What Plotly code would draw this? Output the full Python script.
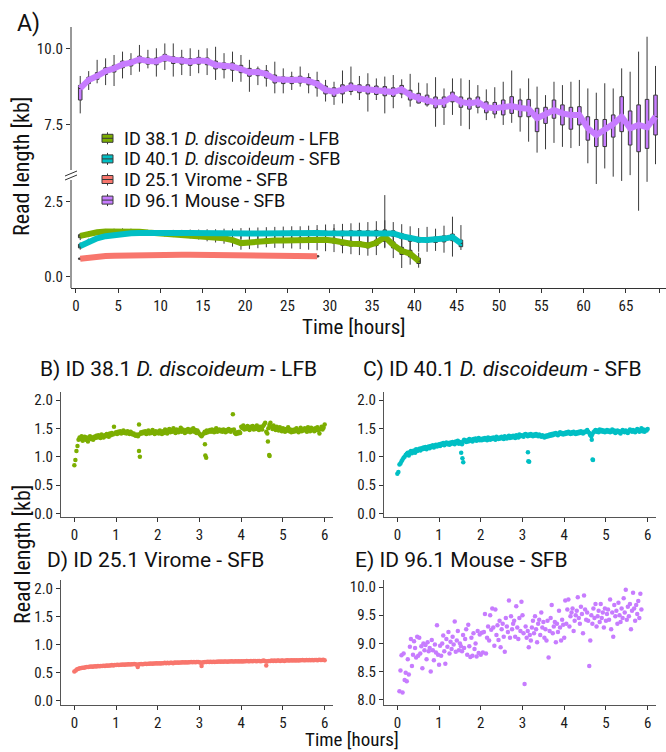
import numpy as np
import plotly.graph_objects as go

W, H = 666, 752
FONT = "Roboto Condensed, Liberation Sans Narrow, DejaVu Sans Condensed, Roboto, sans-serif"
FONT_TITLE = "Roboto, Noto Sans, sans-serif"

COL_LFB = "#7CAE00"
COL_SFB = "#00BFC4"
COL_VIR = "#F8766D"
COL_MOUSE = "#C77CFF"
AXIS_COL = "#333333"


def px(x):
    return x / W


def py(y):
    return 1 - y / H


# ---------------- panel A : hourly boxes (lo, q1, median, q3, hi) ----------------
mouse_hours = list(range(69))
mouse_med = [8.68, 8.96, 9.09, 9.25, 9.34, 9.47, 9.53, 9.64, 9.58, 9.57,
             9.70, 9.62, 9.60, 9.56, 9.60, 9.58, 9.45, 9.42, 9.40, 9.32,
             9.21, 9.22, 9.15, 8.99, 8.96, 8.96, 8.97, 8.93, 8.83, 8.63,
             8.57, 8.65, 8.72, 8.68, 8.65, 8.63, 8.60, 8.56, 8.65, 8.46,
             8.36, 8.30, 8.22, 8.24, 8.41, 8.24, 8.19, 8.24, 8.06, 8.03,
             8.06, 8.10, 8.04, 8.01, 7.70, 7.81, 7.97, 7.86, 7.81, 7.81,
             7.37, 7.15, 7.31, 7.51, 7.75, 7.37, 7.48, 7.40, 7.75]
mouse_q3 = [8.78, 9.05, 9.20, 9.36, 9.44, 9.58, 9.62, 9.74, 9.68, 9.68,
            9.80, 9.72, 9.70, 9.66, 9.70, 9.68, 9.58, 9.52, 9.52, 9.44,
            9.34, 9.32, 9.26, 9.12, 9.06, 9.06, 9.08, 9.04, 8.94, 8.76,
            8.70, 8.80, 8.86, 8.80, 8.80, 8.76, 8.74, 8.70, 8.78, 8.62,
            8.52, 8.46, 8.40, 8.40, 8.56, 8.40, 8.36, 8.40, 8.24, 8.22,
            8.30, 8.41, 8.30, 8.32, 8.03, 8.06, 8.30, 8.14, 8.06, 8.08,
            7.75, 7.66, 7.66, 7.81, 8.41, 7.94, 8.14, 8.32, 8.46]
mouse_q1 = [8.30, 8.84, 8.98, 9.14, 9.22, 9.36, 9.42, 9.52, 9.48, 9.46,
            9.58, 9.50, 9.48, 9.44, 9.48, 9.46, 9.32, 9.30, 9.28, 9.20,
            9.08, 9.10, 9.02, 8.86, 8.84, 8.84, 8.86, 8.80, 8.70, 8.50,
            8.42, 8.50, 8.58, 8.54, 8.50, 8.48, 8.44, 8.42, 8.50, 8.30,
            8.20, 8.14, 8.04, 8.06, 8.24, 8.06, 8.00, 8.06, 7.88, 7.84,
            7.81, 7.86, 7.75, 7.75, 7.26, 7.53, 7.70, 7.48, 7.34, 7.48,
            6.98, 6.77, 6.77, 7.08, 7.26, 6.82, 6.60, 6.71, 7.15]
mouse_hi = [9.09, 9.25, 9.62, 9.67, 9.78, 9.89, 9.84, 10.11, 9.95, 10.00,
            10.16, 10.16, 9.95, 10.00, 9.95, 10.00, 10.05, 9.84, 9.89, 9.78,
            9.62, 9.40, 9.45, 9.56, 9.34, 9.23, 9.40, 9.18, 9.23, 8.96,
            8.90, 9.27, 9.40, 9.09, 9.18, 9.01, 9.07, 9.12, 8.98, 9.16,
            8.87, 8.85, 9.05, 8.68, 9.01, 9.01, 8.96, 8.79, 8.65, 8.72,
            8.90, 9.27, 8.68, 9.01, 8.74, 8.46, 8.90, 8.79, 8.90, 8.96,
            8.68, 8.54, 8.85, 8.68, 9.34, 9.23, 9.89, 10.38, 9.42]
mouse_lo = [7.86, 8.63, 8.85, 8.79, 8.76, 9.01, 9.12, 9.23, 9.34, 9.07,
            9.29, 9.07, 9.12, 9.09, 9.18, 9.12, 8.96, 9.01, 8.90, 8.90,
            8.57, 8.79, 8.74, 8.52, 8.52, 8.63, 8.74, 8.52, 8.41, 8.25,
            8.14, 8.19, 8.46, 8.30, 7.92, 8.30, 7.86, 8.03, 8.36, 8.08,
            8.19, 8.08, 7.42, 7.48, 7.81, 7.45, 7.34, 7.86, 7.64, 7.70,
            7.48, 7.55, 7.26, 6.93, 6.57, 6.68, 6.89, 6.76, 6.72, 6.79,
            6.22, 5.54, 6.05, 5.78, 5.64, 5.83, 4.66, 5.61, 6.19]

lfb_hours = list(range(41))
lfb_med = [1.36, 1.43, 1.48, 1.51, 1.52, 1.53, 1.52, 1.50, 1.47, 1.45,
           1.43, 1.41, 1.40, 1.38, 1.35, 1.32, 1.30, 1.28, 1.22, 1.12,
           1.14, 1.18, 1.20, 1.21, 1.21, 1.22, 1.23, 1.25, 1.24, 1.23,
           1.20, 1.13, 1.10, 1.09, 1.04, 1.13, 1.33, 1.06, 0.86, 0.77, 0.52]
lfb_q3 = [1.40, 1.47, 1.51, 1.54, 1.55, 1.56, 1.55, 1.53, 1.50, 1.48,
          1.46, 1.44, 1.43, 1.41, 1.39, 1.37, 1.35, 1.33, 1.28, 1.18,
          1.20, 1.24, 1.26, 1.27, 1.27, 1.28, 1.29, 1.31, 1.30, 1.30,
          1.28, 1.21, 1.18, 1.17, 1.12, 1.22, 1.48, 1.16, 0.98, 0.88, 0.62]
lfb_q1 = [1.30, 1.39, 1.45, 1.48, 1.49, 1.50, 1.49, 1.47, 1.44, 1.42,
          1.40, 1.38, 1.37, 1.35, 1.31, 1.27, 1.25, 1.23, 1.16, 1.06,
          1.08, 1.12, 1.14, 1.15, 1.15, 1.16, 1.17, 1.19, 1.18, 1.16,
          1.12, 1.05, 1.02, 1.01, 0.96, 1.04, 1.18, 0.96, 0.74, 0.66, 0.44]
lfb_hi = [1.45, 1.52, 1.56, 1.59, 1.60, 1.61, 1.60, 1.58, 1.56, 1.54,
          1.53, 1.51, 1.50, 1.49, 1.47, 1.46, 1.45, 1.44, 1.42, 1.36,
          1.40, 1.44, 1.47, 1.46, 1.48, 1.50, 1.52, 1.55, 1.58, 1.60,
          1.62, 1.55, 1.50, 1.52, 1.48, 1.58, 2.72, 1.52, 1.45, 1.25, 0.80]
lfb_lo = [1.22, 1.32, 1.40, 1.43, 1.44, 1.45, 1.44, 1.42, 1.39, 1.36,
          1.34, 1.32, 1.30, 1.28, 1.24, 1.18, 1.14, 1.10, 1.00, 0.90,
          0.92, 0.95, 0.98, 0.96, 0.95, 0.94, 0.92, 0.90, 0.88, 0.85,
          0.82, 0.78, 0.75, 0.72, 0.70, 0.72, 0.95, 0.62, 0.29, 0.40, 0.30]

sfb_hours = list(range(46))
sfb_med = [1.02, 1.17, 1.28, 1.35, 1.40, 1.43, 1.45, 1.46, 1.47, 1.47,
           1.46, 1.46, 1.46, 1.46, 1.45, 1.45, 1.44, 1.44, 1.43, 1.43,
           1.44, 1.44, 1.45, 1.45, 1.45, 1.46, 1.45, 1.45, 1.46, 1.45,
           1.45, 1.44, 1.45, 1.46, 1.45, 1.45, 1.46, 1.44, 1.35, 1.27,
           1.23, 1.22, 1.23, 1.27, 1.32, 1.11]
sfb_q3 = [1.08, 1.22, 1.32, 1.39, 1.43, 1.46, 1.48, 1.49, 1.50, 1.50,
          1.49, 1.49, 1.49, 1.49, 1.48, 1.49, 1.48, 1.48, 1.48, 1.48,
          1.49, 1.49, 1.50, 1.50, 1.51, 1.52, 1.51, 1.51, 1.53, 1.52,
          1.52, 1.52, 1.53, 1.54, 1.53, 1.54, 1.56, 1.53, 1.43, 1.36,
          1.31, 1.30, 1.32, 1.36, 1.42, 1.22]
sfb_q1 = [0.96, 1.12, 1.24, 1.31, 1.37, 1.40, 1.42, 1.43, 1.44, 1.44,
          1.43, 1.43, 1.43, 1.43, 1.42, 1.41, 1.40, 1.40, 1.38, 1.38,
          1.39, 1.39, 1.40, 1.40, 1.39, 1.40, 1.39, 1.39, 1.39, 1.38,
          1.38, 1.36, 1.37, 1.38, 1.37, 1.36, 1.37, 1.35, 1.27, 1.18,
          1.15, 1.14, 1.14, 1.16, 1.20, 1.00]
sfb_hi = [1.14, 1.27, 1.36, 1.43, 1.47, 1.50, 1.52, 1.53, 1.54, 1.55,
          1.55, 1.56, 1.56, 1.57, 1.57, 1.58, 1.58, 1.60, 1.60, 1.62,
          1.63, 1.64, 1.65, 1.66, 1.67, 1.68, 1.68, 1.70, 1.72, 1.74,
          1.75, 1.76, 1.78, 1.80, 1.82, 1.85, 1.88, 1.82, 1.75, 1.68,
          1.62, 1.66, 1.60, 1.70, 2.00, 1.72]
sfb_lo = [0.90, 1.06, 1.19, 1.27, 1.33, 1.36, 1.38, 1.39, 1.40, 1.40,
          1.39, 1.38, 1.37, 1.36, 1.34, 1.32, 1.30, 1.29, 1.27, 1.26,
          1.25, 1.24, 1.23, 1.22, 1.21, 1.20, 1.19, 1.18, 1.16, 1.15,
          1.12, 1.10, 1.08, 1.05, 1.02, 1.00, 0.98, 0.95, 0.90, 0.85,
          0.83, 0.83, 0.86, 0.80, 0.67, 0.89]

vir_hours = list(range(29))
vir_med = [0.60, 0.64, 0.67, 0.69, 0.70, 0.71, 0.72, 0.72, 0.73, 0.73,
           0.73, 0.73, 0.73, 0.73, 0.73, 0.73, 0.73, 0.73, 0.72, 0.72,
           0.72, 0.71, 0.71, 0.70, 0.70, 0.69, 0.69, 0.68, 0.68]
vir_q3 = [0.62, 0.66, 0.69, 0.71, 0.72, 0.73, 0.74, 0.74, 0.75, 0.75,
          0.75, 0.75, 0.75, 0.75, 0.75, 0.75, 0.75, 0.75, 0.74, 0.74,
          0.74, 0.73, 0.73, 0.72, 0.72, 0.71, 0.71, 0.70, 0.70]
vir_q1 = [0.58, 0.62, 0.65, 0.67, 0.68, 0.69, 0.70, 0.70, 0.71, 0.71,
          0.71, 0.71, 0.71, 0.71, 0.71, 0.71, 0.71, 0.71, 0.70, 0.70,
          0.70, 0.69, 0.69, 0.68, 0.68, 0.67, 0.67, 0.66, 0.66]
vir_hi = [0.64, 0.68, 0.71, 0.73, 0.74, 0.75, 0.76, 0.76, 0.77, 0.77,
          0.77, 0.77, 0.77, 0.77, 0.77, 0.77, 0.77, 0.77, 0.76, 0.76,
          0.76, 0.75, 0.75, 0.74, 0.74, 0.73, 0.73, 0.72, 0.72]
vir_lo = [0.55, 0.60, 0.63, 0.65, 0.66, 0.67, 0.68, 0.68, 0.69, 0.69,
          0.69, 0.69, 0.69, 0.69, 0.69, 0.69, 0.69, 0.69, 0.68, 0.68,
          0.68, 0.67, 0.67, 0.66, 0.66, 0.65, 0.65, 0.64, 0.64]

# ---------------- panels B-E : first six hours ----------------
# B: ID 38.1 LFB, one read-length value every 1.5 min
b_len = [0.85, 0.94, 1.10, 1.19, 1.30, 1.34, 1.31, 1.36, 1.28, 1.33,
         1.35, 1.30, 1.34, 1.27, 1.33, 1.36, 1.31, 1.34, 1.30, 1.35,
         1.33, 1.37, 1.34, 1.38, 1.35, 1.33, 1.39, 1.36, 1.34, 1.38,
         1.36, 1.40, 1.37, 1.35, 1.41, 1.38, 1.42, 1.39, 1.53, 1.41,
         1.43, 1.40, 1.44, 1.42, 1.45, 1.41, 1.43, 1.46, 1.42, 1.44,
         1.41, 1.45, 1.43, 1.40, 1.44, 1.42, 1.39, 1.41, 1.38, 1.37,
         1.39, 1.36, 1.57, 1.40, 1.43, 1.41, 1.44, 1.42, 1.45, 1.40,
         1.43, 1.46, 1.41, 1.44, 1.42, 1.47, 1.43, 1.40, 1.45, 1.42,
         1.44, 1.41, 1.46, 1.43, 1.40, 1.45, 1.42, 1.48, 1.44, 1.41,
         1.46, 1.49, 1.43, 1.47, 1.44, 1.50, 1.45, 1.42, 1.48, 1.46,
         1.43, 1.47, 1.51, 1.44, 1.48, 1.45, 1.42, 1.47, 1.44, 1.49,
         1.46, 1.43, 1.48, 1.45, 1.50, 1.44, 1.47, 1.42, 1.46, 1.43,
         1.40, 1.38, 1.36, 1.39, 1.41, 1.44, 1.42, 1.46, 1.43, 1.45,
         1.47, 1.44, 1.48, 1.45, 1.43, 1.47, 1.50, 1.44, 1.46, 1.48,
         1.45, 1.47, 1.44, 1.48, 1.46, 1.43, 1.47, 1.45, 1.49, 1.46,
         1.44, 1.47, 1.75, 1.48, 1.42, 1.40, 1.43, 1.41, 1.44, 1.42,
         1.53, 1.50, 1.55, 1.48, 1.52, 1.49, 1.54, 1.51, 1.47, 1.53,
         1.50, 1.54, 1.48, 1.52, 1.49, 1.55, 1.51, 1.47, 1.53, 1.50,
         1.48, 1.54, 1.57, 1.60, 1.44, 1.41, 1.50, 1.56, 1.60, 1.53,
         1.49, 1.55, 1.51, 1.47, 1.53, 1.50, 1.46, 1.52, 1.48, 1.45,
         1.50, 1.47, 1.44, 1.49, 1.46, 1.52, 1.45, 1.48, 1.43, 1.47,
         1.44, 1.48, 1.45, 1.50, 1.46, 1.43, 1.47, 1.51, 1.45, 1.48,
         1.46, 1.50, 1.47, 1.44, 1.52, 1.48, 1.45, 1.51, 1.47, 1.49,
         1.45, 1.50, 1.47, 1.52, 1.46, 1.41, 1.49, 1.53, 1.48, 1.51,
         1.57]
b_out_time = [1.55, 1.57, 3.13, 3.14, 3.16, 4.64, 4.67, 4.68]
b_out_len = [1.10, 1.00, 1.22, 1.02, 0.98, 1.27, 1.03, 1.01]

# C: ID 40.1 SFB
c_len = [0.70, 0.73, 0.86, 0.88, 0.92, 0.95, 0.98, 1.00, 1.03, 1.05,
         1.07, 1.02, 1.08, 1.10, 1.06, 1.09, 1.11, 1.07, 1.13, 1.10,
         1.12, 1.14, 1.11, 1.15, 1.13, 1.16, 1.14, 1.17, 1.13, 1.16,
         1.18, 1.15, 1.19, 1.17, 1.20, 1.16, 1.19, 1.21, 1.18, 1.20,
         1.22, 1.19, 1.23, 1.21, 1.24, 1.20, 1.23, 1.25, 1.22, 1.24,
         1.21, 1.25, 1.23, 1.26, 1.24, 1.22, 1.27, 1.25, 1.28, 1.23,
         1.26, 1.24, 1.22, 1.27, 1.30, 1.28, 1.26, 1.29, 1.27, 1.31,
         1.28, 1.30, 1.27, 1.31, 1.29, 1.32, 1.28, 1.30, 1.33, 1.29,
         1.31, 1.29, 1.32, 1.30, 1.33, 1.31, 1.29, 1.34, 1.32, 1.30,
         1.33, 1.31, 1.34, 1.32, 1.30, 1.35, 1.33, 1.31, 1.34, 1.32,
         1.35, 1.33, 1.31, 1.36, 1.34, 1.32, 1.35, 1.37, 1.33, 1.36,
         1.34, 1.37, 1.35, 1.33, 1.38, 1.36, 1.34, 1.39, 1.36, 1.38,
         1.37, 1.35, 1.39, 1.40, 1.38, 1.36, 1.39, 1.37, 1.40, 1.38,
         1.36, 1.39, 1.37, 1.40, 1.38, 1.36, 1.39, 1.37, 1.35, 1.38,
         1.36, 1.34, 1.37, 1.35, 1.38, 1.36, 1.39, 1.37, 1.40, 1.38,
         1.41, 1.39, 1.42, 1.40, 1.38, 1.41, 1.43, 1.40, 1.42, 1.39,
         1.42, 1.40, 1.43, 1.41, 1.44, 1.42, 1.40, 1.43, 1.41, 1.44,
         1.42, 1.40, 1.43, 1.41, 1.44, 1.42, 1.45, 1.43, 1.41, 1.44,
         1.43, 1.45, 1.47, 1.44, 1.42, 1.38, 1.36, 1.40, 1.43, 1.45,
         1.47, 1.44, 1.46, 1.43, 1.48, 1.45, 1.47, 1.44, 1.46, 1.43,
         1.45, 1.47, 1.44, 1.46, 1.43, 1.45, 1.48, 1.44, 1.46, 1.42,
         1.44, 1.46, 1.43, 1.45, 1.41, 1.44, 1.47, 1.45, 1.43, 1.46,
         1.44, 1.42, 1.45, 1.48, 1.46, 1.44, 1.47, 1.45, 1.43, 1.46,
         1.49, 1.46, 1.44, 1.47, 1.50, 1.45, 1.48, 1.44, 1.47, 1.46,
         1.49]
c_out_time = [1.53, 1.56, 1.58, 3.13, 3.14, 3.16, 4.66, 4.68, 4.69]
c_out_len = [1.07, 0.97, 0.90, 1.08, 0.92, 0.91, 1.30, 0.95, 0.94]

# D: ID 25.1 Virome, one value every 2 min
d_len = [0.52, 0.54, 0.56, 0.57, 0.58, 0.585, 0.59, 0.59, 0.595, 0.60,
         0.60, 0.605, 0.61, 0.605, 0.61, 0.615, 0.61, 0.62, 0.615, 0.62,
         0.62, 0.625, 0.62, 0.63, 0.625, 0.63, 0.63, 0.635, 0.63, 0.635,
         0.635, 0.64, 0.635, 0.64, 0.64, 0.645, 0.64, 0.645, 0.645, 0.65,
         0.645, 0.65, 0.65, 0.655, 0.65, 0.64, 0.645, 0.65, 0.655, 0.65,
         0.655, 0.66, 0.655, 0.66, 0.66, 0.665, 0.66, 0.665, 0.665, 0.67,
         0.665, 0.67, 0.665, 0.67, 0.67, 0.675, 0.67, 0.675, 0.67, 0.675,
         0.675, 0.67, 0.68, 0.675, 0.68, 0.675, 0.68, 0.68, 0.685, 0.68,
         0.685, 0.68, 0.685, 0.685, 0.69, 0.685, 0.69, 0.685, 0.69, 0.69,
         0.685, 0.675, 0.68, 0.685, 0.69, 0.69, 0.695, 0.69, 0.695, 0.69,
         0.695, 0.69, 0.695, 0.695, 0.70, 0.695, 0.70, 0.695, 0.70, 0.70,
         0.695, 0.70, 0.70, 0.705, 0.70, 0.70, 0.705, 0.70, 0.705, 0.70,
         0.705, 0.70, 0.705, 0.705, 0.71, 0.705, 0.705, 0.71, 0.705, 0.71,
         0.71, 0.705, 0.71, 0.71, 0.705, 0.71, 0.715, 0.71, 0.70, 0.705,
         0.71, 0.71, 0.715, 0.71, 0.715, 0.71, 0.715, 0.715, 0.71, 0.715,
         0.715, 0.71, 0.715, 0.72, 0.715, 0.715, 0.72, 0.715, 0.72, 0.715,
         0.72, 0.715, 0.72, 0.72, 0.725, 0.72, 0.72, 0.725, 0.72, 0.725,
         0.72, 0.725, 0.72, 0.725, 0.725, 0.72, 0.73, 0.725, 0.725, 0.73,
         0.72]
d_out_time = [1.52, 3.05, 4.60]
d_out_len = [0.60, 0.62, 0.63]

# E: ID 96.1 Mouse, one value every 1.5 min from 0.05 h
e_len = [8.15, 8.52, 8.79, 8.13, 8.82, 8.35, 8.48, 8.33, 8.72, 8.45,
         8.94, 9.08, 8.60, 8.80, 9.04, 8.92, 8.75, 9.12, 8.78, 9.10,
         8.82, 8.95, 8.56, 9.00, 8.88, 8.97, 8.72, 9.02, 8.86, 8.92,
         8.50, 9.06, 8.88, 8.70, 8.98, 8.84, 9.32, 8.80, 8.62, 8.96,
         8.78, 9.00, 9.14, 8.86, 8.64, 9.08, 8.94, 9.20, 8.82, 9.03,
         8.90, 9.12, 8.98, 9.39, 8.85, 9.05, 9.22, 8.88, 9.00, 8.95,
         8.86, 9.15, 8.92, 9.08, 9.25, 8.80, 9.33, 8.95, 8.76, 9.10,
         8.78, 9.18, 8.90, 9.00, 8.77, 9.22, 8.83, 9.16, 8.80, 9.19,
         8.84, 9.20, 9.52, 8.82, 9.10, 9.30, 9.05, 9.50, 9.24, 9.62,
         9.28, 8.96, 9.60, 9.15, 9.32, 9.06, 9.40, 8.93, 9.25, 9.35,
         9.12, 8.85, 9.45, 9.30, 9.20, 9.76, 9.10, 9.48, 9.25, 9.35,
         9.40, 9.12, 9.66, 9.28, 9.08, 9.45, 9.22, 9.74, 9.50, 9.18,
         8.28, 9.30, 9.10, 9.22, 8.93, 9.15, 9.05, 9.28, 9.40, 9.18,
         9.48, 9.25, 9.02, 9.35, 9.42, 9.15, 9.55, 9.28, 9.38, 9.10,
         9.25, 9.05, 9.40, 8.75, 9.22, 9.45, 9.68, 9.18, 9.30, 9.38,
         9.02, 9.35, 9.20, 9.58, 9.28, 9.05, 9.42, 9.33, 9.10, 9.76,
         9.35, 9.60, 9.78, 9.30, 9.48, 9.55, 9.62, 9.22, 9.40, 9.50,
         9.58, 9.82, 9.45, 9.35, 9.65, 9.52, 9.18, 9.85, 9.60, 9.42,
         9.55, 9.40, 8.60, 9.05, 9.50, 9.35, 9.62, 9.45, 9.70, 9.30,
         9.48, 9.58, 9.38, 9.70, 9.45, 9.55, 9.28, 9.62, 9.40, 9.52,
         9.60, 9.42, 9.78, 9.25, 9.55, 9.12, 9.68, 9.48, 9.58, 9.35,
         9.72, 9.50, 9.38, 9.62, 9.45, 9.80, 9.55, 9.95, 9.42, 9.65,
         9.48, 9.70, 9.25, 9.58, 9.90, 9.62, 9.40, 9.68, 9.52, 9.75,
         9.45, 9.88, 9.60]

b_time = np.round(np.arange(len(b_len)) * 0.025, 4)
c_time = np.round(np.arange(len(c_len)) * 0.025, 4)
d_time = np.round(np.arange(len(d_len)) / 30, 4)
e_time = np.round(0.05 + np.arange(len(e_len)) * 0.025, 4)

legend_names = ["ID 38.1 <i>D. discoideum</i> - LFB",
                "ID 40.1 <i>D. discoideum</i> - SFB",
                "ID 25.1 Virome - SFB",
                "ID 96.1 Mouse - SFB"]
legend_colors = [COL_LFB, COL_SFB, COL_VIR, COL_MOUSE]

fig = go.Figure()


def add_boxes(hours, lo, q1, med, q3, hi, color, name, yaxis):
    fig.add_trace(go.Box(
        x=[h + 0.5 for h in hours], lowerfence=lo, q1=q1, median=med, q3=q3,
        upperfence=hi, fillcolor=color, line=dict(color="#3a3a3a", width=1),
        whiskerwidth=0, width=0.42, boxpoints=False, name=name, showlegend=False,
        xaxis="x", yaxis=yaxis, hoverinfo="skip"))


def add_median_line(hours, med, color, yaxis):
    fig.add_trace(go.Scatter(
        x=[h + 0.5 for h in hours], y=med, mode="lines",
        line=dict(color=color, width=6), showlegend=False,
        xaxis="x", yaxis=yaxis, hoverinfo="skip"))


add_boxes(lfb_hours, lfb_lo, lfb_q1, lfb_med, lfb_q3, lfb_hi, COL_LFB, legend_names[0], "y")
add_boxes(sfb_hours, sfb_lo, sfb_q1, sfb_med, sfb_q3, sfb_hi, COL_SFB, legend_names[1], "y")
add_boxes(vir_hours, vir_lo, vir_q1, vir_med, vir_q3, vir_hi, COL_VIR, legend_names[2], "y")
add_boxes(mouse_hours, mouse_lo, mouse_q1, mouse_med, mouse_q3, mouse_hi, COL_MOUSE,
          legend_names[3], "y2")

add_median_line(vir_hours, vir_med, COL_VIR, "y")
add_median_line(lfb_hours, lfb_med, COL_LFB, "y")
add_median_line(sfb_hours, sfb_med, COL_SFB, "y")
add_median_line(mouse_hours, mouse_med, COL_MOUSE, "y2")

# scatter panels
panels = [
    ("x2", "y3", b_time, b_len, b_out_time, b_out_len, COL_LFB),
    ("x3", "y4", c_time, c_len, c_out_time, c_out_len, COL_SFB),
    ("x4", "y5", d_time, d_len, d_out_time, d_out_len, COL_VIR),
    ("x5", "y6", e_time, e_len, [], [], COL_MOUSE),
]
for xa, ya, t, v, ot, ov, col in panels:
    fig.add_trace(go.Scatter(
        x=list(t) + list(ot), y=list(v) + list(ov), mode="markers",
        marker=dict(color=col, size=4.5), showlegend=False,
        xaxis=xa, yaxis=ya, hoverinfo="skip"))

tick_font = dict(family=FONT, size=15, color="#1a1a1a")
axis_common = dict(showgrid=False, zeroline=False, ticks="outside", ticklen=4,
                   tickcolor=AXIS_COL, tickwidth=1, tickfont=tick_font,
                   automargin=False, fixedrange=True)

# panel A axes (pixel geometry -> paper fractions)
fig.update_layout(
    xaxis=dict(domain=[px(71), px(666)], range=[-0.59, 69.74], anchor="y",
               tickvals=[0, 5, 10, 15, 20, 25, 30, 35, 40, 45, 50, 55, 60, 65, 69],
               showline=True, linecolor=AXIS_COL, linewidth=1, **axis_common),
    yaxis=dict(domain=[py(288), py(180)], range=[-0.377, 3.223], anchor="x",
               tickvals=[0, 2.5], ticktext=["0.0", "2.5"], showline=False,
               **axis_common),
    yaxis2=dict(domain=[py(215), py(27)], range=[4.52, 10.70], anchor="x",
                tickvals=[7.5, 10.0], ticktext=["7.5", "10.0"], showline=False,
                **axis_common),
)

lower_x = dict(range=[-0.32, 6.2], tickvals=[0, 1, 2, 3, 4, 5, 6],
               showline=True, linecolor="#555555", linewidth=1, **axis_common)
lower_y = dict(range=[-0.065, 2.147], tickvals=[0, 0.5, 1.0, 1.5, 2.0],
               ticktext=["0.0", "0.5", "1.0", "1.5", "2.0"],
               showline=True, linecolor="#555555", linewidth=1, **axis_common)
fig.update_layout(
    xaxis2=dict(domain=[px(61), px(333)], anchor="y3", **lower_x),
    yaxis3=dict(domain=[py(517), py(391.7)], anchor="x2", **lower_y),
    xaxis3=dict(domain=[px(384), px(656)], anchor="y4", **lower_x),
    yaxis4=dict(domain=[py(517), py(391.7)], anchor="x3", **lower_y),
    xaxis4=dict(domain=[px(61), px(333)], anchor="y5", **lower_x),
    yaxis5=dict(domain=[py(704.5), py(580)], anchor="x4", **lower_y),
    xaxis5=dict(domain=[px(384), px(656)], anchor="y6", **lower_x),
    yaxis6=dict(domain=[py(704.5), py(580)], anchor="x5", range=[7.917, 10.124],
                tickvals=[8.0, 8.5, 9.0, 9.5, 10.0],
                ticktext=["8.0", "8.5", "9.0", "9.5", "10.0"],
                showline=True, linecolor="#555555", linewidth=1, **axis_common),
)

# broken y axis of panel A
line_style = dict(color=AXIS_COL, width=1)
shapes = [
    dict(type="line", xref="paper", yref="paper", x0=px(71), x1=px(71),
         y0=py(27), y1=py(170), line=line_style),
    dict(type="line", xref="paper", yref="paper", x0=px(71), x1=px(71),
         y0=py(180), y1=py(288), line=line_style),
    dict(type="line", xref="paper", yref="paper", x0=px(65), x1=px(77),
         y0=py(176), y1=py(171), line=line_style),
    dict(type="line", xref="paper", yref="paper", x0=px(65), x1=px(77),
         y0=py(180), y1=py(175), line=line_style),
]


def label(text, x, y, size, angle=0, xanchor="center", family=FONT):
    return dict(text=text, x=px(x), y=py(y), xref="paper", yref="paper",
                showarrow=False, textangle=angle, xanchor=xanchor, yanchor="middle",
                font=dict(family=family, size=size, color="#111111"))


annotations = [
    label("A)", 28, 23, 23, family=FONT_TITLE),
    label("Read length [kb]", 22, 167, 22, -90),
    label("Time [hours]", 354, 327, 21),
    label("B) ID 38.1 <i>D. discoideum</i> - LFB", 38, 369, 21, xanchor="left", family=FONT_TITLE),
    label("C) ID 40.1 <i>D. discoideum</i> - SFB", 361, 369, 21, xanchor="left", family=FONT_TITLE),
    label("D) ID 25.1 Virome - SFB", 45, 560, 21, xanchor="left", family=FONT_TITLE),
    label("E) ID 96.1 Mouse - SFB", 353, 560, 21, xanchor="left", family=FONT_TITLE),
    label("Read length [kb]", 22, 555, 22, -90),
    label("Time [hours]", 352, 739.5, 19),
]

# hand-drawn legend of panel A (boxplot keys)
key_rows = [138.3, 158.9, 179.5, 200.1]
for name, col, yc in zip(legend_names, legend_colors, key_rows):
    shapes.append(dict(type="rect", xref="paper", yref="paper",
                       x0=px(102), x1=px(113), y0=py(yc + 4), y1=py(yc - 4),
                       fillcolor=col, line=dict(color="#3a3a3a", width=1)))
    shapes.append(dict(type="line", xref="paper", yref="paper",
                       x0=px(102), x1=px(113), y0=py(yc), y1=py(yc),
                       line=dict(color="#3a3a3a", width=1)))
    shapes.append(dict(type="line", xref="paper", yref="paper",
                       x0=px(107.5), x1=px(107.5), y0=py(yc - 4), y1=py(yc - 6),
                       line=dict(color="#3a3a3a", width=1)))
    shapes.append(dict(type="line", xref="paper", yref="paper",
                       x0=px(107.5), x1=px(107.5), y0=py(yc + 4), y1=py(yc + 6),
                       line=dict(color="#3a3a3a", width=1)))
    annotations.append(label(name, 122, yc, 18, xanchor="left", family=FONT_TITLE))

fig.update_layout(
    width=W, height=H,
    margin=dict(l=0, r=0, t=0, b=0),
    paper_bgcolor="white", plot_bgcolor="rgba(0,0,0,0)",
    font=dict(family=FONT, color="#111111"),
    boxmode="overlay",
    showlegend=False,
    shapes=shapes,
    annotations=annotations,
)

fig.write_html("out.html", config={"displayModeBar": False},
               post_script="document.body.style.margin='0';")
